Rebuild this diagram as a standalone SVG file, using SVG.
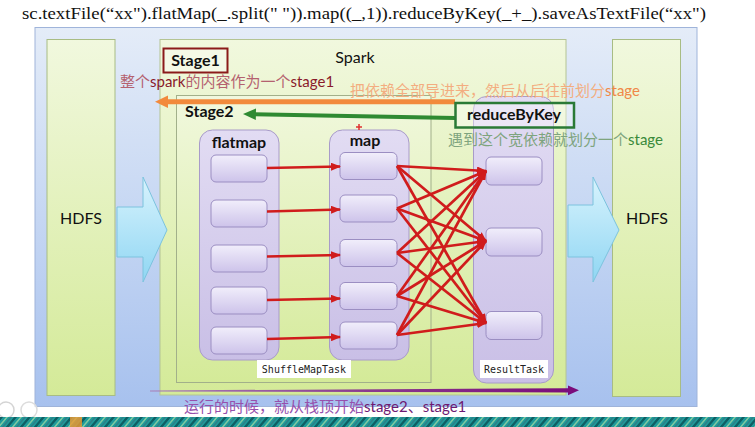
<svg xmlns="http://www.w3.org/2000/svg" width="755" height="427" viewBox="0 0 755 427">
<defs>
  <linearGradient id="gBlue" x1="0" y1="0" x2="0" y2="1">
    <stop offset="0" stop-color="#e4ecf8"/>
    <stop offset="1" stop-color="#a7c1ee"/>
  </linearGradient>
  <linearGradient id="gGreen" x1="0" y1="0" x2="0" y2="1">
    <stop offset="0" stop-color="#f1f8de"/>
    <stop offset="1" stop-color="#d4ea98"/>
  </linearGradient>
  <linearGradient id="gCol" x1="0" y1="0" x2="0" y2="1">
    <stop offset="0" stop-color="#e2dcf3"/>
    <stop offset="1" stop-color="#c9bfe6"/>
  </linearGradient>
  <linearGradient id="gBox" x1="0" y1="0" x2="0" y2="1">
    <stop offset="0" stop-color="#f1eefb"/>
    <stop offset="1" stop-color="#cdc3ea"/>
  </linearGradient>
  <linearGradient id="gCyan" x1="0" y1="0" x2="0" y2="1">
    <stop offset="0" stop-color="#d8f3fd"/>
    <stop offset="1" stop-color="#8fd6f3"/>
  </linearGradient>
  <linearGradient id="gPurple" x1="0" y1="0" x2="1" y2="0">
    <stop offset="0" stop-color="#a880b8"/>
    <stop offset="0.5" stop-color="#8a3a8e"/>
    <stop offset="1" stop-color="#7a0a7a"/>
  </linearGradient>
  <pattern id="stripe" width="14" height="10" patternUnits="userSpaceOnUse" patternTransform="skewX(-40)">
    <rect width="14" height="10" fill="#1f9a9a"/>
    <rect x="0" width="3" height="10" fill="#0f5f64"/>
    <rect x="6" width="2" height="10" fill="#7fc8a0"/>
    <rect x="10" width="2" height="10" fill="#2e7f86"/>
  </pattern>
  <marker id="ah" viewBox="0 0 10 8" refX="9" refY="4" markerWidth="10" markerHeight="8" markerUnits="userSpaceOnUse" orient="auto">
    <path d="M0,0 L10,4 L0,8 Z" fill="#d01c1c"/>
  </marker>
  <style>
    .lbl { font-family: Lato, "Open Sans", "Liberation Sans", sans-serif; fill: #111; }
    .b { font-weight: bold; }
    .zh { font-family: "Noto Sans CJK SC", "Noto Sans", sans-serif; }
    .en { font-family: Lato, "Liberation Sans", sans-serif; }
    .mono { font-family: "DejaVu Sans Mono", "Liberation Mono", monospace; font-size: 10px; fill: #222; }
    .col { fill: url(#gCol); stroke: #a89bc9; stroke-width: 1; }
    .box { fill: url(#gBox); stroke: #9b8ec2; stroke-width: 1; }
    .tag { fill: #ffffff; }
    .red { stroke: #d01c1c; stroke-width: 2.7; fill: none; marker-end: url(#ah); }
    .cyan { fill: url(#gCyan); stroke: #7cc3de; stroke-width: 1; }
    .hdfs { fill: url(#gGreen); stroke: #a8bc84; stroke-width: 1; }
  </style>
</defs>

<rect width="755" height="427" fill="#ffffff"/>

<text x="22" y="19" font-family="'Liberation Serif', serif" font-size="17" fill="#111" textLength="684" lengthAdjust="spacingAndGlyphs">sc.textFile(“xx").flatMap(_.split(" ")).map((_,1)).reduceByKey(_+_).saveAsTextFile(“xx")</text>

<g id="panel">
  <rect x="35" y="27.5" width="662" height="379" fill="url(#gBlue)" stroke="#9fb4da" stroke-width="1"/>
</g>

<g id="hdfs-left">
  <rect class="hdfs" x="47" y="39.5" width="68" height="356"/>
  <text class="lbl" x="81" y="224" font-size="16" text-anchor="middle">HDFS</text>
</g>

<g id="hdfs-right">
  <rect class="hdfs" x="612.5" y="39.5" width="68" height="357"/>
  <text class="lbl" x="647" y="224" font-size="16" text-anchor="middle">HDFS</text>
</g>

<g id="spark">
  <rect x="160" y="39.5" width="406" height="355.5" fill="url(#gGreen)" stroke="#b4c494" stroke-width="1"/>
  <text class="lbl" x="355" y="63" font-size="16" text-anchor="middle">Spark</text>
</g>

<g id="arrows-io">
  <polygon class="cyan" points="117,207 143,207 143,177 167,230 143,282 143,257 117,257"/>
  <polygon class="cyan" points="568,205 593,205 593,177 619,230 593,282 593,257 568,257"/>
</g>

<g id="stage1">
  <rect x="163.5" y="48.5" width="64" height="24" fill="#f4f9e6" stroke="#8b1a1a" stroke-width="2"/>
  <text class="lbl b" x="195.5" y="66" font-size="16" text-anchor="middle">Stage1</text>
</g>

<g id="stage2">
  <rect x="176.5" y="95.5" width="254.5" height="287" fill="url(#gGreen)" stroke="#a2b08a" stroke-width="1"/>
  <text class="lbl b" x="185" y="117" font-size="16">Stage2</text>
</g>

<g id="flatmap">
  <rect class="col" x="199.5" y="130" width="79.5" height="230" rx="13"/>
  <text class="lbl b" x="239" y="148" font-size="16" text-anchor="middle">flatmap</text>
  <rect class="box" x="211" y="155" width="56" height="27" rx="5"/>
  <rect class="box" x="211" y="200" width="56" height="27" rx="5"/>
  <rect class="box" x="211" y="245" width="56" height="27" rx="5"/>
  <rect class="box" x="211" y="287" width="56" height="27" rx="5"/>
  <rect class="box" x="211" y="327" width="56" height="27" rx="5"/>
</g>

<g id="map">
  <rect class="col" x="329.5" y="130" width="79.5" height="230" rx="13"/>
  <text class="lbl b" x="365" y="146" font-size="16" text-anchor="middle">map</text>
  <path d="M356,127 H362 M359,124 V130" stroke="#e03030" stroke-width="1.5"/>
  <rect class="box" x="340" y="152.5" width="57" height="27" rx="5"/>
  <rect class="box" x="340" y="195" width="57" height="27" rx="5"/>
  <rect class="box" x="340" y="239.5" width="57" height="27" rx="5"/>
  <rect class="box" x="340" y="282.5" width="57" height="27" rx="5"/>
  <rect class="box" x="340" y="322" width="57" height="27" rx="5"/>
</g>

<g id="shufflemaptask">
  <rect class="tag" x="257" y="360" width="94" height="18"/>
  <text class="mono" x="304" y="373" text-anchor="middle">ShuffleMapTask</text>
</g>

<g id="result">
  <rect class="col" x="473.5" y="96.5" width="80" height="286.5" rx="13"/>
  <rect class="box" x="486" y="157" width="56" height="28" rx="5"/>
  <rect class="box" x="486" y="228" width="56" height="28" rx="5"/>
  <rect class="box" x="486" y="311.5" width="56" height="28" rx="5"/>
  <rect class="tag" x="480" y="360" width="68" height="18"/>
  <text class="mono" x="514" y="373" text-anchor="middle">ResultTask</text>
</g>

<g id="connectors">
  <line class="red" x1="267" y1="168" x2="340" y2="166.5"/>
  <line class="red" x1="267" y1="211.5" x2="340" y2="209.5"/>
  <line class="red" x1="267" y1="256.5" x2="340" y2="255"/>
  <line class="red" x1="267" y1="300" x2="340" y2="298.5"/>
  <line class="red" x1="267" y1="339" x2="340" y2="337"/>

  <line class="red" x1="397" y1="166" x2="486" y2="171"/>
  <line class="red" x1="397" y1="166" x2="486" y2="241"/>
  <line class="red" x1="397" y1="166" x2="486" y2="323"/>
  <line class="red" x1="397" y1="208.5" x2="486" y2="171"/>
  <line class="red" x1="397" y1="208.5" x2="486" y2="241"/>
  <line class="red" x1="397" y1="208.5" x2="486" y2="323"/>
  <line class="red" x1="397" y1="253" x2="486" y2="171"/>
  <line class="red" x1="397" y1="253" x2="486" y2="241"/>
  <line class="red" x1="397" y1="253" x2="486" y2="323"/>
  <line class="red" x1="397" y1="296" x2="486" y2="171"/>
  <line class="red" x1="397" y1="296" x2="486" y2="241"/>
  <line class="red" x1="397" y1="296" x2="486" y2="323"/>
  <line class="red" x1="397" y1="335" x2="486" y2="171"/>
  <line class="red" x1="397" y1="335" x2="486" y2="241"/>
  <line class="red" x1="397" y1="335" x2="486" y2="323"/>

  <line x1="455" y1="101.7" x2="166" y2="101.7" stroke="#f28a3c" stroke-width="5"/>
  <polygon points="155,101.7 168,95.5 168,108" fill="#f28a3c"/>

  <line x1="455" y1="118" x2="252" y2="114.2" stroke="#2f8a32" stroke-width="4"/>
  <polygon points="243,114 256,108.5 255.8,120" fill="#2f8a32"/>

  <polygon points="150,390.4 568,388.3 568,385.5 579,390.3 568,395.2 568,392.4 150,391.6" fill="url(#gPurple)"/>
</g>

<g id="reducebykey">
  <rect x="455.5" y="103" width="118.5" height="24.5" fill="#ffffff" fill-opacity="0.35" stroke="#2a7a36" stroke-width="2.5"/>
  <text class="lbl b" x="514" y="120" font-size="16" text-anchor="middle">reduceByKey</text>
</g>

<g id="notes" font-size="15">
  <text x="120" y="87"><tspan class="zh" fill="#b4616f">整个</tspan><tspan class="en" fill="#8a1a2a">spark</tspan><tspan class="zh" fill="#b4616f">的内容作为一个</tspan><tspan class="en" fill="#8a1a2a">stage1</tspan></text>
  <text x="350" y="96"><tspan class="zh" fill="#f3ad80">把依赖全部导进来，然后从后往前划分</tspan><tspan class="en" fill="#f08848">stage</tspan></text>
  <text x="448" y="145"><tspan class="zh" fill="#7ea47e">遇到这个宽依赖就划分一个</tspan><tspan class="en" fill="#3a8a3a">stage</tspan></text>
  <text x="184" y="412"><tspan class="zh" fill="#9650ac">运行的时候，就从栈顶开始</tspan><tspan class="en" fill="#6e1a72">stage2</tspan><tspan class="zh" fill="#6e1a72">、</tspan><tspan class="en" fill="#6e1a72">stage1</tspan></text>
</g>

<g id="footer">
  <circle cx="6" cy="410" r="8" fill="#ffffff" fill-opacity="0.6" stroke="#d4d4d4" stroke-width="1.5"/>
  <circle cx="29" cy="410" r="8" fill="#ffffff" fill-opacity="0.6" stroke="#dcdcdc" stroke-width="1.5"/>
  <rect x="0" y="417" width="755" height="10" fill="url(#stripe)"/>
  <rect x="70" y="417" width="12" height="10" fill="#f29a2e" opacity="0.8"/>
</g>
</svg>
